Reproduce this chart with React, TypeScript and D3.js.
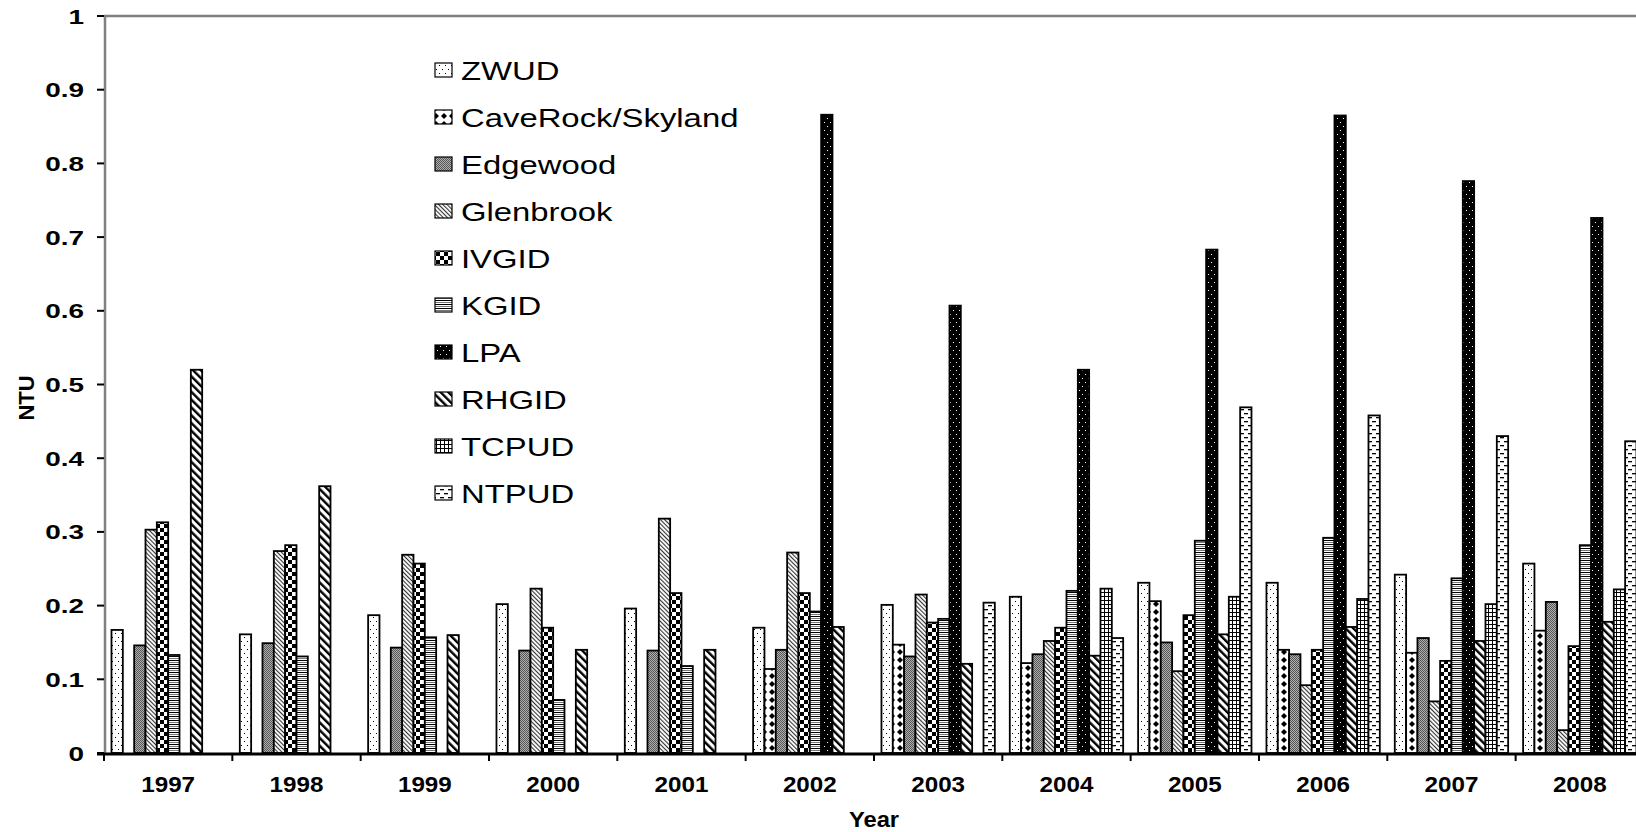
import React from 'react';
import * as d3 from 'd3';

const years = ['1997', '1998', '1999', '2000', '2001', '2002', '2003', '2004', '2005', '2006', '2007', '2008'];
const seriesNames = ['ZWUD', 'CaveRock/Skyland', 'Edgewood', 'Glenbrook', 'IVGID', 'KGID', 'LPA', 'RHGID', 'TCPUD', 'NTPUD'];

const ZWUD = [0.167, 0.161, 0.187, 0.202, 0.196, 0.170, 0.201, 0.212, 0.231, 0.231, 0.242, 0.257];
const CaveRock = [null, null, null, null, null, 0.114, 0.147, 0.122, 0.206, 0.140, 0.136, 0.166];
const Edgewood = [0.146, 0.149, 0.143, 0.139, 0.139, 0.140, 0.131, 0.134, 0.150, 0.134, 0.156, 0.205];
const Glenbrook = [0.303, 0.274, 0.269, 0.223, 0.318, 0.272, 0.215, 0.152, 0.111, 0.092, 0.070, 0.031];
const IVGID = [0.313, 0.282, 0.257, 0.170, 0.217, 0.217, 0.177, 0.170, 0.187, 0.140, 0.125, 0.145];
const KGID = [0.133, 0.131, 0.157, 0.072, 0.118, 0.192, 0.182, 0.220, 0.288, 0.292, 0.237, 0.282];
const LPA = [null, null, null, null, null, 0.866, 0.607, 0.520, 0.683, 0.865, 0.776, 0.726];
const RHGID = [0.520, 0.362, 0.160, 0.140, 0.140, 0.171, 0.121, 0.132, 0.161, 0.171, 0.152, 0.178];
const TCPUD = [null, null, null, null, null, null, null, 0.223, 0.212, 0.209, 0.202, 0.222];
const NTPUD = [null, null, null, null, null, null, 0.204, 0.156, 0.469, 0.458, 0.430, 0.423];

const seriesValues: (number | null)[][] = [ZWUD, CaveRock, Edgewood, Glenbrook, IVGID, KGID, LPA, RHGID, TCPUD, NTPUD];

const yTicks = [0, 0.1, 0.2, 0.3, 0.4, 0.5, 0.6, 0.7, 0.8, 0.9, 1];

const FONT = '"Liberation Sans", Arial, Helvetica, sans-serif';

function Patterns() {
  return (
    <defs>
      {/* ZWUD: sparse dots */}
      <pattern id="p0" patternUnits="userSpaceOnUse" width="6" height="8">
        <rect width="6" height="8" fill="#fff" />
        <rect x="1" y="1" width="1" height="1" fill="#000" />
        <rect x="4" y="5" width="1" height="1" fill="#000" />
      </pattern>
      {/* CaveRock: diamonds */}
      <pattern id="p1" patternUnits="userSpaceOnUse" width="8" height="8">
        <rect width="8" height="8" fill="#fff" />
        <path d="M4 1 L7 4 L4 7 L1 4 Z" fill="#000" />
      </pattern>
      {/* Edgewood: gray 50% */}
      <pattern id="p2" patternUnits="userSpaceOnUse" width="2" height="2">
        <rect width="2" height="2" fill="#b0b0b0" />
        <rect x="0" y="0" width="1" height="1" fill="#555" />
        <rect x="1" y="1" width="1" height="1" fill="#555" />
      </pattern>
      {/* Glenbrook: light downward diagonal */}
      <pattern id="p3" patternUnits="userSpaceOnUse" width="3" height="3" patternTransform="rotate(-45)">
        <rect width="3" height="3" fill="#fff" />
        <rect x="0" y="0" width="1.1" height="3" fill="#333" />
      </pattern>
      {/* IVGID: checkerboard */}
      <pattern id="p4" patternUnits="userSpaceOnUse" width="8" height="8">
        <rect width="8" height="8" fill="#fff" />
        <rect x="0" y="0" width="4" height="4" fill="#000" />
        <rect x="4" y="4" width="4" height="4" fill="#000" />
      </pattern>
      {/* KGID: horizontal lines */}
      <pattern id="p5" patternUnits="userSpaceOnUse" width="4" height="4">
        <rect width="4" height="4" fill="#fff" />
        <rect x="0" y="0" width="4" height="1" fill="#000" />
        <rect x="0" y="2" width="4" height="1" fill="#777" />
      </pattern>
      {/* LPA: black with white dots */}
      <pattern id="p6" patternUnits="userSpaceOnUse" width="6" height="8">
        <rect width="6" height="8" fill="#000" />
        <rect x="2" y="2" width="1" height="1" fill="#fff" />
        <rect x="5" y="6" width="1" height="1" fill="#fff" />
      </pattern>
      {/* RHGID: wide downward diagonal */}
      <pattern id="p7" patternUnits="userSpaceOnUse" width="5.5" height="5.5" patternTransform="rotate(-45)">
        <rect width="5.5" height="5.5" fill="#fff" />
        <rect x="0" y="0" width="2.4" height="5.5" fill="#000" />
      </pattern>
      {/* TCPUD: small grid */}
      <pattern id="p8" patternUnits="userSpaceOnUse" width="4" height="4">
        <rect width="4" height="4" fill="#fff" />
        <rect x="0" y="0" width="4" height="1" fill="#000" />
        <rect x="0" y="0" width="1" height="4" fill="#000" />
      </pattern>
      {/* NTPUD: dashed horizontal */}
      <pattern id="p9" patternUnits="userSpaceOnUse" width="8" height="8">
        <rect width="8" height="8" fill="#fff" />
        <rect x="0" y="1" width="4" height="1.3" fill="#000" />
        <rect x="4" y="5" width="4" height="1.3" fill="#000" />
      </pattern>
    </defs>
  );
}

export default function App() {
  const W = 1636;
  const H = 832;
  const left = 104;
  const groupW = 128.33;
  const x0 = d3.scaleBand<string>().domain(years).range([left, left + groupW * years.length]).paddingInner(0).paddingOuter(0);
  const x1 = d3.scaleBand<string>().domain(seriesNames).range([0, x0.bandwidth()]).paddingInner(0).paddingOuter(0.66);
  const y = d3.scaleLinear().domain([0, 1]).range([753, 16]);

  const legendX = 435;
  const legendY0 = 80;
  const legendStep = 47;

  return (
    <svg width={W} height={H} style={{ position: 'absolute', left: 0, top: 0, background: '#fff' }} fontFamily={FONT}>
      <Patterns />
      <rect width={W} height={H} fill="#fff" />
      {/* top border */}
      <line x1={left} x2={W} y1={y(1)} y2={y(1)} stroke="#808080" strokeWidth={2.5} />
      {/* y axis */}
      <line x1={left + 1} x2={left + 1} y1={y(1)} y2={y(0)} stroke="#808080" strokeWidth={2.5} />
      {yTicks.map((t) => (
        <g key={t}>
          <line x1={97} x2={left} y1={y(t)} y2={y(t)} stroke="#000" strokeWidth={2} />
          <text transform={`translate(84,${y(t) + 7.5}) scale(1.33,1)`} textAnchor="end" fontSize={21} fontWeight="bold" fill="#000">
            {String(+t.toFixed(1))}
          </text>
        </g>
      ))}
      {/* bars */}
      {years.map((yr, gi) => (
        <g key={yr}>
          {seriesNames.map((s, si) => {
            const v = seriesValues[si][gi];
            if (v == null) return null;
            return (
              <rect
                key={s}
                x={(x0(yr) as number) + (x1(s) as number)}
                y={y(v)}
                width={x1.bandwidth()}
                height={y(0) - y(v)}
                fill={`url(#p${si})`}
                stroke="#000"
                strokeWidth={1.8}
              />
            );
          })}
        </g>
      ))}
      {/* x axis */}
      <line x1={97} x2={W} y1={y(0) + 1} y2={y(0) + 1} stroke="#000" strokeWidth={3} />
      {d3.range(years.length + 1).map((i) => {
        const xx = left + i * x0.step();
        return <line key={i} x1={xx} x2={xx} y1={y(0)} y2={y(0) + 8} stroke="#000" strokeWidth={2} />;
      })}
      {years.map((yr) => (
        <text
          key={yr}
          transform={`translate(${(x0(yr) as number) + x0.bandwidth() / 2},792) scale(1.1,1)`}
          textAnchor="middle"
          fontSize={22}
          fontWeight="bold"
          fill="#000"
        >
          {yr}
        </text>
      ))}
      <text transform={`translate(874,827) scale(1.08,1)`} textAnchor="middle" fontSize={22} fontWeight="bold" fill="#000">
        Year
      </text>
      <text transform={`translate(34,398) rotate(-90)`} textAnchor="middle" fontSize={22} fontWeight="bold" fill="#000">
        NTU
      </text>
      {/* legend */}
      {seriesNames.map((s, i) => {
        const by = legendY0 + i * legendStep;
        return (
          <g key={s}>
            <rect x={legendX} y={by - 17} width={17} height={14} fill={`url(#p${i})`} stroke="#000" strokeWidth={1.2} />
            <text transform={`translate(${legendX + 26},${by}) scale(1.24,1)`} fontSize={26.5} fill="#000">
              {s}
            </text>
          </g>
        );
      })}
    </svg>
  );
}
